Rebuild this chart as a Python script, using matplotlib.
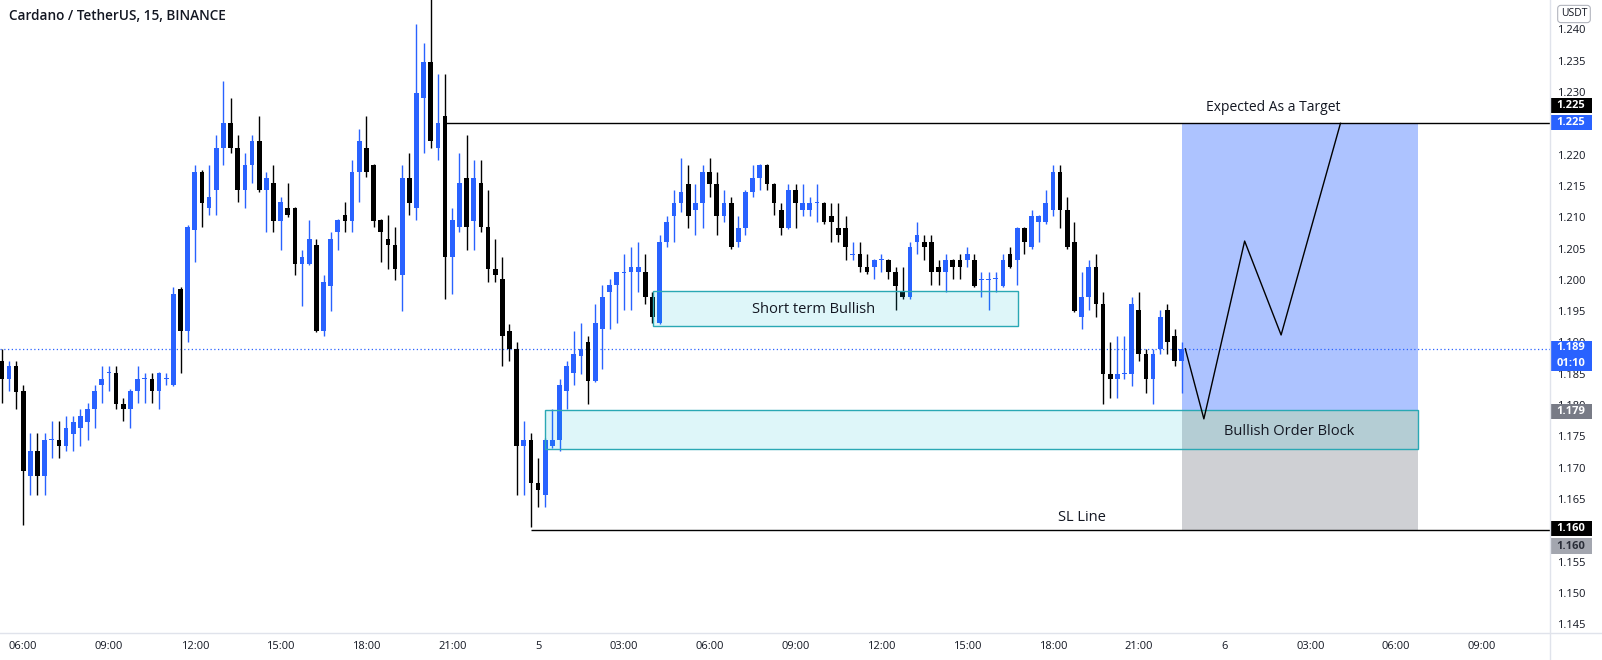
import numpy as np
import matplotlib.pyplot as plt
from matplotlib.patches import Rectangle
from matplotlib.lines import Line2D
import matplotlib.transforms as mtransforms

plt.rcParams['font.family'] = ['Open Sans', 'DejaVu Sans']

# ADA/USDT 15m candles
opens = [1.1871, 1.1841, 1.1862, 1.1822, 1.1686, 1.1726, 1.1686, 1.1744, 1.1745, 1.1734,
         1.1754, 1.1763, 1.1773, 1.1793, 1.1832, 1.1851, 1.1851, 1.1802, 1.1793, 1.1822,
         1.1841, 1.1842, 1.1822, 1.1841, 1.1832, 1.1986, 1.1918, 1.2080, 1.2172, 1.2114,
         1.2143, 1.2211, 1.2251, 1.2211, 1.2143, 1.2183, 1.2222, 1.2143, 1.2154, 1.2094,
         1.2115, 1.2115, 1.2025, 1.2025, 1.2056, 1.1918, 1.1990, 1.2076, 1.2104, 1.2094,
         1.2172, 1.2211, 1.2183, 1.2095, 1.2065, 1.2056, 1.2007, 1.2163, 1.2114, 1.2290,
         1.2348, 1.2211, 1.2261, 1.2036, 1.2084, 1.2163, 1.2094, 1.2154, 1.2084, 1.2017,
         1.2002, 1.1919, 1.1890, 1.1734, 1.1745, 1.1675, 1.1657, 1.1734, 1.1745, 1.1822,
         1.1851, 1.1879, 1.1901, 1.1839, 1.1921, 1.1981, 1.1992, 1.2011, 1.2012, 1.2012,
         1.2012, 1.1972, 1.1931, 1.2061, 1.2102, 1.2123, 1.2153, 1.2112, 1.2123, 1.2172,
         1.2153, 1.2102, 1.2123, 1.2061, 1.2083, 1.2141, 1.2163, 1.2183, 1.2153, 1.2112,
         1.2083, 1.2143, 1.2112, 1.2112, 1.2122, 1.2123, 1.2102, 1.2083, 1.2083, 1.2040,
         1.2041, 1.2021, 1.2021, 1.2031, 1.2032, 1.2012, 1.1981, 1.1972, 1.2061, 1.2061,
         1.2061, 1.2021, 1.2012, 1.2032, 1.2032, 1.2032, 1.2032, 1.2000, 1.2000, 1.2001,
         1.1991, 1.2041, 1.2032, 1.2083, 1.2052, 1.2092, 1.2092, 1.2112, 1.2172, 1.2112,
         1.2061, 1.1941, 1.1972, 1.2021, 1.1961, 1.1850, 1.1841, 1.1849, 1.1850, 1.1952,
         1.1881, 1.1841, 1.1890, 1.1952, 1.1910, 1.1870]
highs = [1.1890, 1.1871, 1.1871, 1.1832, 1.1755, 1.1755, 1.1755, 1.1774, 1.1774, 1.1782,
         1.1782, 1.1794, 1.1803, 1.1832, 1.1862, 1.1862, 1.1862, 1.1811, 1.1825, 1.1862,
         1.1851, 1.1851, 1.1853, 1.1851, 1.1988, 1.1988, 1.2087, 1.2183, 1.2175, 1.2183,
         1.2231, 1.2318, 1.2290, 1.2231, 1.2202, 1.2231, 1.2261, 1.2172, 1.2183, 1.2133,
         1.2154, 1.2117, 1.2047, 1.2095, 1.2065, 1.2008, 1.2076, 1.2097, 1.2124, 1.2192,
         1.2241, 1.2261, 1.2185, 1.2097, 1.2104, 1.2084, 1.2183, 1.2202, 1.2408, 1.2378,
         1.2450, 1.2329, 1.2329, 1.2115, 1.2202, 1.2231, 1.2192, 1.2192, 1.2143, 1.2065,
         1.2036, 1.1929, 1.1901, 1.1774, 1.1755, 1.1715, 1.1747, 1.1794, 1.1842, 1.1871,
         1.1919, 1.1931, 1.1910, 1.1961, 1.1992, 1.2001, 1.2013, 1.2041, 1.2052, 1.2061,
         1.2041, 1.1981, 1.2071, 1.2102, 1.2143, 1.2194, 1.2183, 1.2153, 1.2183, 1.2194,
         1.2172, 1.2143, 1.2132, 1.2102, 1.2143, 1.2183, 1.2185, 1.2185, 1.2155, 1.2123,
         1.2153, 1.2153, 1.2153, 1.2132, 1.2153, 1.2125, 1.2123, 1.2123, 1.2102, 1.2061,
         1.2061, 1.2041, 1.2034, 1.2041, 1.2034, 1.2021, 1.2021, 1.2061, 1.2092, 1.2072,
         1.2072, 1.2032, 1.2041, 1.2034, 1.2041, 1.2052, 1.2041, 1.2012, 1.2012, 1.2012,
         1.2041, 1.2052, 1.2085, 1.2085, 1.2112, 1.2104, 1.2143, 1.2183, 1.2183, 1.2132,
         1.2092, 1.2012, 1.2032, 1.2041, 1.1981, 1.1901, 1.1910, 1.1910, 1.1972, 1.1981,
         1.1890, 1.1890, 1.1952, 1.1961, 1.1921, 1.1901]
lows = [1.1803, 1.1822, 1.1794, 1.1608, 1.1657, 1.1657, 1.1657, 1.1715, 1.1715, 1.1726,
        1.1726, 1.1734, 1.1745, 1.1764, 1.1803, 1.1822, 1.1794, 1.1774, 1.1764, 1.1803,
        1.1803, 1.1803, 1.1794, 1.1832, 1.1830, 1.1851, 1.1901, 1.2028, 1.2085, 1.2104,
        1.2104, 1.2183, 1.2202, 1.2124, 1.2114, 1.2154, 1.2141, 1.2076, 1.2076, 1.2047,
        1.2101, 1.2008, 1.1958, 1.2023, 1.1916, 1.1910, 1.1950, 1.2047, 1.2076, 1.2076,
        1.2124, 1.2164, 1.2085, 1.2028, 1.2017, 1.1999, 1.1950, 1.2104, 1.2095, 1.2202,
        1.2211, 1.2192, 1.1969, 1.1978, 1.2076, 1.2047, 1.2047, 1.2076, 1.1997, 1.1997,
        1.1862, 1.1871, 1.1657, 1.1657, 1.1605, 1.1638, 1.1638, 1.1732, 1.1726, 1.1794,
        1.1832, 1.1850, 1.1801, 1.1837, 1.1857, 1.1921, 1.1931, 1.1952, 1.1952, 1.1981,
        1.1961, 1.1931, 1.1929, 1.2052, 1.2061, 1.2108, 1.2083, 1.2072, 1.2083, 1.2132,
        1.2072, 1.2092, 1.2050, 1.2052, 1.2072, 1.2132, 1.2143, 1.2143, 1.2103, 1.2072,
        1.2081, 1.2083, 1.2102, 1.2102, 1.2092, 1.2090, 1.2061, 1.2061, 1.2032, 1.2032,
        1.2012, 1.2010, 1.2001, 1.2012, 1.2001, 1.1952, 1.1970, 1.1970, 1.2041, 1.2032,
        1.1992, 1.1992, 1.1981, 1.2001, 1.2001, 1.2021, 1.1989, 1.1972, 1.1952, 1.1981,
        1.1989, 1.2019, 1.1992, 1.2041, 1.2050, 1.2061, 1.2090, 1.2102, 1.2083, 1.2050,
        1.1948, 1.1921, 1.1952, 1.1941, 1.1802, 1.1811, 1.1811, 1.1841, 1.1830, 1.1870,
        1.1820, 1.1802, 1.1881, 1.1881, 1.1862, 1.1820]
closes = [1.1841, 1.1862, 1.1821, 1.1695, 1.1726, 1.1686, 1.1745, 1.1746, 1.1734, 1.1763,
          1.1773, 1.1782, 1.1794, 1.1822, 1.1842, 1.1852, 1.1802, 1.1793, 1.1822, 1.1842,
          1.1843, 1.1822, 1.1851, 1.1843, 1.1978, 1.1918, 1.2085, 1.2172, 1.2123, 1.2133,
          1.2211, 1.2251, 1.2211, 1.2143, 1.2183, 1.2222, 1.2143, 1.2163, 1.2094, 1.2124,
          1.2103, 1.2025, 1.2036, 1.2065, 1.1918, 1.1997, 1.2065, 1.2095, 1.2094, 1.2172,
          1.2222, 1.2172, 1.2094, 1.2076, 1.2056, 1.2017, 1.2163, 1.2123, 1.2299, 1.2348,
          1.2222, 1.2251, 1.2036, 1.2095, 1.2154, 1.2084, 1.2163, 1.2084, 1.2017, 1.2007,
          1.1910, 1.1890, 1.1734, 1.1745, 1.1675, 1.1665, 1.1745, 1.1745, 1.1832, 1.1862,
          1.1881, 1.1890, 1.1839, 1.1931, 1.1972, 1.1992, 1.2012, 1.2013, 1.2021, 1.2021,
          1.1972, 1.1941, 1.2061, 1.2092, 1.2123, 1.2141, 1.2102, 1.2123, 1.2172, 1.2153,
          1.2102, 1.2123, 1.2052, 1.2083, 1.2141, 1.2163, 1.2183, 1.2153, 1.2123, 1.2083,
          1.2143, 1.2123, 1.2123, 1.2123, 1.2124, 1.2092, 1.2092, 1.2072, 1.2052, 1.2042,
          1.2021, 1.2012, 1.2032, 1.2033, 1.2012, 1.1991, 1.1972, 1.2052, 1.2072, 1.2052,
          1.2012, 1.2012, 1.2032, 1.2021, 1.2021, 1.2041, 1.1991, 1.2002, 1.2002, 1.2002,
          1.2032, 1.2021, 1.2083, 1.2061, 1.2102, 1.2102, 1.2123, 1.2172, 1.2112, 1.2052,
          1.1950, 1.1972, 1.2021, 1.1961, 1.1850, 1.1841, 1.1850, 1.1851, 1.1961, 1.1881,
          1.1841, 1.1881, 1.1941, 1.1901, 1.1870, 1.1890]

# time axis labels (15m bars, first bar 05:15 on the 4th)
time_labels = ['06:00', '09:00', '12:00', '15:00', '18:00', '21:00', '5', '03:00', '06:00',
               '09:00', '12:00', '15:00', '18:00', '21:00', '6', '03:00', '06:00', '09:00']
first_label_bar = 3
bars_per_label = 12
price_ticks = np.arange(1.145, 1.2401, 0.005)

# drawings
target_price = 1.225
entry_price = 1.179
stop_price = 1.160
last_price = 1.189
short_box = (91.1, 142.1, 1.1926, 1.1983)
order_block = (76.0, 198.1, 1.1730, 1.1792)
position_x = (165.1, 198.1)
path_x = [165.5, 168.1, 173.8, 178.9, 187.2]
path_y = [1.189, 1.1778, 1.2062, 1.1912, 1.225]

BLUE = '#2962ff'
TXT = '#131722'

fig = plt.figure(figsize=(16.02, 6.6), dpi=100)
ax = fig.add_axes([0, 27 / 660, 1550 / 1602, 633 / 660])
ax.set_xlim(-0.24, 216.5)
ax.set_ylim(1.1436, 1.2447)
for s in ax.spines.values():
    s.set_visible(False)

o = np.array(opens)
h = np.array(highs)
l = np.array(lows)
c = np.array(closes)
x = np.arange(len(o))
cols = np.where(c >= o, BLUE, '#000000')
ax.vlines(x, l, h, colors=cols, linewidth=1, zorder=3)
ax.bar(x, np.maximum(np.abs(c - o), 0.00015), bottom=np.minimum(o, c), width=0.66,
       color=cols, linewidth=0, zorder=3)

# current price line
ax.axhline(last_price, color=BLUE, linestyle=(0, (1, 2)), linewidth=0.9, zorder=2)

# long position tool
ax.add_patch(Rectangle((position_x[0], entry_price), position_x[1] - position_x[0],
                       target_price - entry_price, facecolor=BLUE, alpha=0.38, linewidth=0, zorder=4))
ax.add_patch(Rectangle((position_x[0], stop_price), position_x[1] - position_x[0],
                       entry_price - stop_price, facecolor='#787b86', alpha=0.35, linewidth=0, zorder=4))

# boxes
for x0, x1, y0, y1 in [short_box, order_block]:
    ax.add_patch(Rectangle((x0, y0), x1 - x0, y1 - y0, facecolor='#00bcd4', alpha=0.13,
                           linewidth=0, zorder=5))
    ax.add_patch(Rectangle((x0, y0), x1 - x0, y1 - y0, facecolor='none', edgecolor='#2aa8b4',
                           linewidth=1, zorder=5))

# horizontal levels
ax.hlines(target_price, 62, 216.5, color='#000000', linewidth=1, zorder=5)
ax.hlines(stop_price, 74, 216.5, color='#000000', linewidth=1, zorder=5)

ax.plot(path_x, path_y, color='#000000', linewidth=1, zorder=6)

ax.text(177.8, 1.2276, 'Expected As a Target', ha='center', va='center', fontsize=10, color=TXT, zorder=7)
ax.text(113.5, 1.1953, 'Short term Bullish', ha='center', va='center', fontsize=10.5, color=TXT, zorder=7)
ax.text(180.0, 1.1758, 'Bullish Order Block', ha='center', va='center', fontsize=10.5, color=TXT, zorder=7)
ax.text(151.0, 1.1621, 'SL Line', ha='center', va='center', fontsize=10.5, color=TXT, zorder=7)

# axes labels
ax.yaxis.tick_right()
ax.set_yticks(price_ticks)
ax.set_yticklabels(['%.3f' % p for p in price_ticks])
ax.tick_params(axis='y', length=0, pad=5, labelsize=8, labelcolor=TXT)
ax.set_xticks([first_label_bar + bars_per_label * k for k in range(len(time_labels))])
ax.set_xticklabels(time_labels)
ax.tick_params(axis='x', length=0, pad=5.5, labelsize=8, labelcolor=TXT)

# price tags on the scale
trans = mtransforms.blended_transform_factory(ax.transAxes, ax.transData)
tag_w = 42 / 1550
tag_h = 0.00245


def tag(yc, lines, bg, fg, hgt=tag_h):
    ax.add_patch(Rectangle((1.0, yc - hgt / 2), tag_w, hgt, transform=trans, facecolor=bg,
                           linewidth=0, clip_on=False, zorder=10))
    for ty, s in lines:
        ax.text(1.0 + tag_w / 2, ty, s, transform=trans, ha='center', va='center', fontsize=8,
                color=fg, fontweight='bold', clip_on=False, zorder=11)


tag(1.2278, [(1.2278, '1.225')], '#000000', 'white')
tag(1.2251, [(1.2251, '1.225')], BLUE, 'white')
tag(1.18785, [(1.1892, '1.189'), (1.1867, '01:10')], BLUE, 'white', hgt=0.00473)
tag(1.1790, [(1.1790, '1.179')], '#787b86', 'white')
tag(1.16026, [(1.16026, '1.160')], '#000000', 'white')
tag(1.15749, [(1.15749, '1.160')], '#a3a6af', '#2a2e39')

# separators
fig.add_artist(Line2D([1550 / 1602, 1550 / 1602], [0, 1], color='#e0e3eb', linewidth=1))
fig.add_artist(Line2D([0, 1], [27 / 660, 27 / 660], color='#e0e3eb', linewidth=1))

fig.text(1574 / 1602, 1 - 14 / 660, 'USDT', ha='center', va='center', fontsize=7.5, color=TXT,
         bbox=dict(boxstyle='round,pad=0.3,rounding_size=0.3', facecolor='white', edgecolor='#b2b5be', linewidth=0.8))
fig.text(9 / 1602, 1 - 16.5 / 660, 'Cardano / TetherUS, 15, BINANCE', ha='left', va='center',
         fontsize=9.8, color=TXT, fontweight='semibold')

fig.savefig('out.png', dpi=100, facecolor='white')
